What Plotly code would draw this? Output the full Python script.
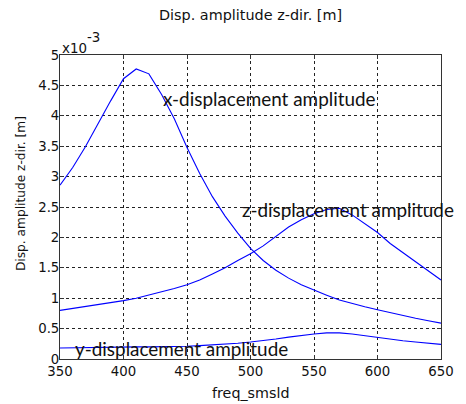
import plotly.graph_objects as go

freq = [350, 360, 370, 380, 390, 400, 410, 420, 430, 440, 450, 460, 470, 480, 490,
        500, 510, 520, 530, 540, 550, 560, 570, 580, 590, 600, 610, 620, 630, 640, 650]

# amplitudes in units of 1e-3 m
x_amp = [2.86, 3.15, 3.49, 3.88, 4.25, 4.61, 4.77, 4.69, 4.35, 3.95, 3.48, 3.05, 2.67, 2.35, 2.07,
         1.82, 1.62, 1.46, 1.33, 1.22, 1.13, 1.05, 0.97, 0.91, 0.86, 0.81, 0.76, 0.71, 0.67, 0.63, 0.59]
z_amp = [0.80, 0.83, 0.86, 0.89, 0.93, 0.96, 1.00, 1.05, 1.10, 1.16, 1.22, 1.30, 1.40, 1.50, 1.62,
         1.73, 1.86, 2.02, 2.17, 2.29, 2.39, 2.46, 2.48, 2.37, 2.23, 2.08, 1.90, 1.75, 1.59, 1.44, 1.30]
y_amp = [0.18, 0.185, 0.19, 0.195, 0.20, 0.20, 0.20, 0.20, 0.20, 0.21, 0.21, 0.22, 0.23, 0.25, 0.26,
         0.28, 0.30, 0.33, 0.36, 0.39, 0.41, 0.43, 0.43, 0.41, 0.38, 0.35, 0.32, 0.30, 0.28, 0.26, 0.24]

x_ticks = [350, 400, 450, 500, 550, 600, 650]
y_ticks = [0, 0.5, 1, 1.5, 2, 2.5, 3, 3.5, 4, 4.5, 5]
y_tick_labels = ["0", "0.5", "1", "1.5", "2", "2.5", "3", "3.5", "4", "4.5", "5"]

labels = ["x-displacement amplitude", "z-displacement amplitude", "y-displacement amplitude"]
label_x = [514.6, 576.9, 445.4]
label_y = [4.27, 2.44, 0.154]

FONT = "DejaVu Sans, sans-serif"
LFONT = "Lato, Open Sans, sans-serif"
TXT = "#111"

fig = go.Figure()
for ys in (x_amp, z_amp, y_amp):
    fig.add_trace(go.Scatter(x=freq, y=ys, mode="lines",
                             line=dict(color="#0000FF", width=1.1), showlegend=False))

for t, lx, ly in zip(labels, label_x, label_y):
    fig.add_annotation(x=lx, y=ly, text=t, showarrow=False, xanchor="center", yanchor="middle",
                       yshift=1, font=dict(family=LFONT, size=18.9, color=TXT))

# exponent label
fig.add_annotation(xref="paper", yref="paper", x=0, y=1.0198, xanchor="left", yanchor="middle",
                   text="x10", showarrow=False, font=dict(family=FONT, size=13.4, color=TXT))
fig.add_annotation(xref="paper", yref="paper", x=0.0667, y=1.056, xanchor="left", yanchor="middle",
                   text="-3", showarrow=False, font=dict(family=FONT, size=13.4, color=TXT))

# chart title and axis titles
fig.add_annotation(xref="paper", yref="paper", x=0.5, y=1.132, xanchor="center", yanchor="middle",
                   text="Disp. amplitude z-dir. [m]", showarrow=False,
                   font=dict(family=FONT, size=14.4, color=TXT))
fig.add_annotation(xref="paper", yref="paper", x=-0.1026, y=0.5456, xanchor="center", yanchor="middle",
                   text="Disp. amplitude z-dir. [m]", textangle=-90, showarrow=False,
                   font=dict(family=FONT, size=12.2, color=TXT))
fig.add_annotation(xref="paper", yref="paper", x=0.5, y=-0.113, xanchor="center", yanchor="middle",
                   text="freq_smsld", showarrow=False,
                   font=dict(family=FONT, size=14.3, color=TXT))

axis_common = dict(showline=True, linecolor="#333", linewidth=1, mirror="ticks",
                   ticks="inside", ticklen=4, tickcolor="#333",
                   showgrid=True, gridcolor="#222", griddash="dot", gridwidth=1,
                   zeroline=False, tickfont=dict(family=FONT, size=13.3, color=TXT))

fig.update_xaxes(range=[350, 650], tickvals=x_ticks, **axis_common)
fig.update_yaxes(range=[0, 5], tickvals=y_ticks, ticktext=y_tick_labels,
                 ticklabelstandoff=-3, **axis_common)

# the page body adds an 8px offset, so the figure is 8px smaller on each axis
fig.update_layout(
    width=458, height=396,
    margin=dict(l=52, r=16, t=47, b=45),
    plot_bgcolor="white", paper_bgcolor="white",
)

fig.write_html("out.html")
